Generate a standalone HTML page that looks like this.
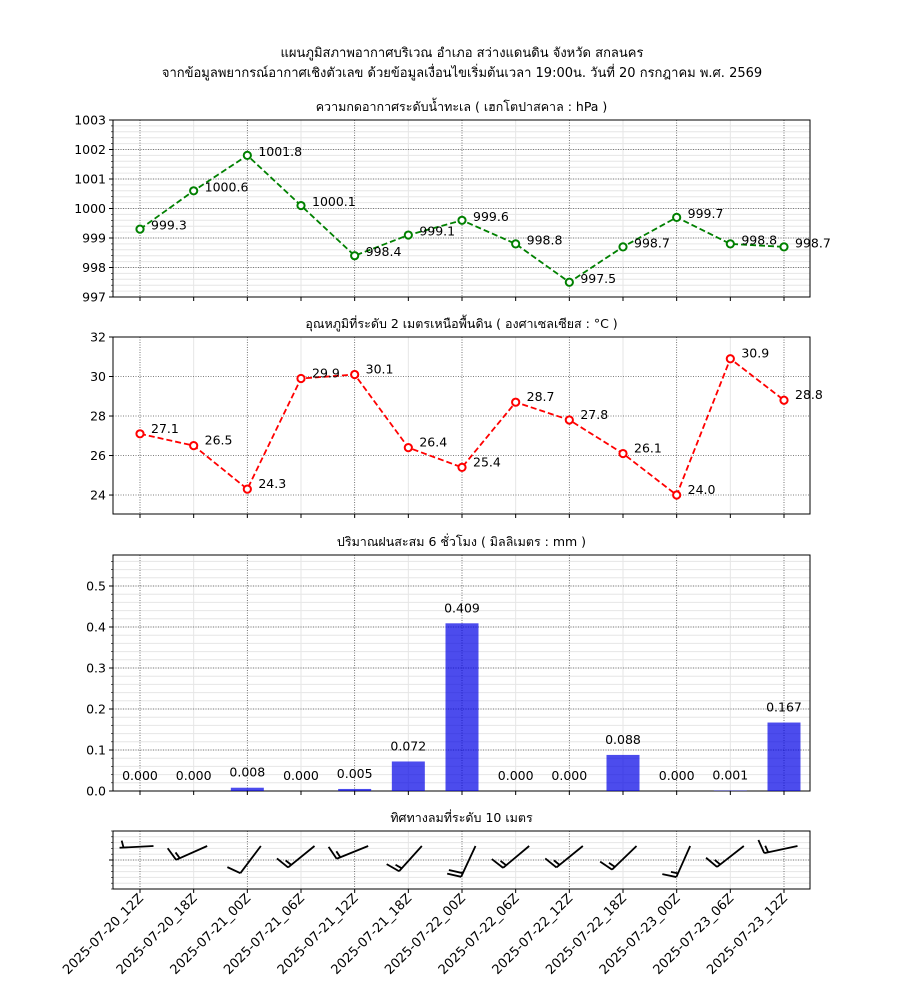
<!DOCTYPE html>
<html><head><meta charset="utf-8">
<style>
html,body{margin:0;padding:0;background:#fff;}
svg{display:block;font-family:"DejaVu Sans","Liberation Sans",sans-serif;}
</style></head>
<body>
<svg id="chart" width="900" height="1000" viewBox="0 0 900 1000" xmlns="http://www.w3.org/2000/svg">
<rect width="900" height="1000" fill="#fff"/>
<text x="462" y="57" text-anchor="middle" font-size="13">แผนภูมิสภาพอากาศบริเวณ อำเภอ สว่างแดนดิน จังหวัด สกลนคร</text>
<text x="462" y="77" text-anchor="middle" font-size="13">จากข้อมูลพยากรณ์อากาศเชิงตัวเลข ด้วยข้อมูลเงื่อนไขเริ่มต้นเวลา 19:00น. วันที่ 20 กรกฎาคม พ.ศ. 2569</text>
<g id="g"></g>
</svg>
<script>
const categories=["2025-07-20_12Z","2025-07-20_18Z","2025-07-21_00Z","2025-07-21_06Z","2025-07-21_12Z","2025-07-21_18Z","2025-07-22_00Z","2025-07-22_06Z","2025-07-22_12Z","2025-07-22_18Z","2025-07-23_00Z","2025-07-23_06Z","2025-07-23_12Z"];
const pressure=[999.3,1000.6,1001.8,1000.1,998.4,999.1,999.6,998.8,997.5,998.7,999.7,998.8,998.7];
const temperature=[27.1,26.5,24.3,29.9,30.1,26.4,25.4,28.7,27.8,26.1,24.0,30.9,28.8];
const rain=[0.000,0.000,0.008,0.000,0.005,0.072,0.409,0.000,0.000,0.088,0.000,0.001,0.167];
const windDirDeg=[177,156,127,141,158,132,115,140,141,136,114,142,168];
const windFull=[0,1,1,1,1,1,2,1,1,1,1,1,1];
const windHalf=[1,1,0,1,1,1,0,1,1,1,1,1,1];
const pTicks=[997,998,999,1000,1001,1002,1003];
const tTicks=[24,26,28,30,32];
const rTicks=[0.0,0.1,0.2,0.3,0.4,0.5];

const NS="http://www.w3.org/2000/svg";
const G=document.getElementById('g');
function el(tag,attrs,parent){const e=document.createElementNS(NS,tag);for(const k in attrs)e.setAttribute(k,attrs[k]);(parent||G).appendChild(e);return e;}
const L=113,R=810;
const xAt=i=>140+i*(784-140)/(categories.length-1);

function panel(name,top,bot,ymin,ymax,title,ticks,fmt,minorStep){
  const g=el('g',{});
  
  
  const y=v=>bot-(v-ymin)/(ymax-ymin)*(bot-top);
  if(minorStep){for(let v=Math.ceil(ymin/minorStep)*minorStep;v<=ymax+1e-9;v+=minorStep){const yy=y(v);el('line',{x1:L,x2:R,y1:yy,y2:yy,stroke:'#e6e6e6','stroke-width':1},g);el('line',{x1:L-2,x2:L,y1:yy,y2:yy,stroke:'#000','stroke-width':0.6},g);}}
  categories.forEach((c,i)=>{const xx=xAt(i);el('line',{x1:xx,x2:xx,y1:top,y2:bot,stroke:i%2?'#e6e6e6':'#555','stroke-width':i%2?1:0.8,'stroke-dasharray':i%2?'':'1,1.5'},g);el('line',{x1:xx,x2:xx,y1:bot,y2:bot+4,stroke:'#000'},g);});
  ticks.forEach(v=>{const yy=y(v);el('line',{x1:L,x2:R,y1:yy,y2:yy,stroke:'#555','stroke-width':0.8,'stroke-dasharray':'1,1.5'},g);el('line',{x1:L-4,x2:L,y1:yy,y2:yy,stroke:'#000'},g);
    if(fmt){const t=el('text',{x:L-7,y:yy+4.5,'text-anchor':'end','font-size':12.5},g);t.textContent=fmt(v);}});
  el('rect',{x:L,y:top,width:R-L,height:bot-top,fill:'none',stroke:'#000','stroke-width':1},g);
  const tt=el('text',{x:(L+R)/2,y:top-9,'text-anchor':'middle','font-size':12.5},g);
  
  
  tt.textContent=title;
  return {g,y};
}

const p1=panel('pressure-panel',120,297,997,1003,'ความกดอากาศระดับน้ำทะเล ( เฮกโตปาสคาล : hPa )',pTicks,v=>v,0.2);
el('polyline',{points:pressure.map((v,i)=>xAt(i)+','+p1.y(v)).join(' '),fill:'none',stroke:'#008000','stroke-width':1.8,'stroke-dasharray':'6,3'},p1.g);
pressure.forEach((v,i)=>{const c=el('circle',{cx:xAt(i),cy:p1.y(v),r:3.6,fill:'#fff',stroke:'#008000','stroke-width':2},p1.g);
  
  
  const t=el('text',{x:xAt(i)+11,y:p1.y(v)+0.5,'font-size':12.5},p1.g);t.textContent=v.toFixed(1);});

const p2=panel('temperature-panel',337,514,23.04,32,'อุณหภูมิที่ระดับ 2 เมตรเหนือพื้นดิน ( องศาเซลเซียส : °C )',tTicks,v=>v,null);
el('polyline',{points:temperature.map((v,i)=>xAt(i)+','+p2.y(v)).join(' '),fill:'none',stroke:'#ff0000','stroke-width':1.8,'stroke-dasharray':'6,3'},p2.g);
temperature.forEach((v,i)=>{const c=el('circle',{cx:xAt(i),cy:p2.y(v),r:3.6,fill:'#fff',stroke:'#ff0000','stroke-width':2},p2.g);
  
  
  const t=el('text',{x:xAt(i)+11,y:p2.y(v)-1,'font-size':12.5},p2.g);t.textContent=v.toFixed(1);});

const p3=panel('rain-panel',555,791,0,0.5756,'ปริมาณฝนสะสม 6 ชั่วโมง ( มิลลิเมตร : mm )',rTicks,v=>v.toFixed(1),0.02);
rain.forEach((v,i)=>{const yy=p3.y(v);const b=el('rect',{x:xAt(i)-16.5,y:yy,width:33,height:791-yy,fill:'rgba(0,0,230,0.7)'},p3.g);
  
  
  const t=el('text',{x:xAt(i),y:yy-11,'text-anchor':'middle','font-size':12.5},p3.g);t.textContent=v.toFixed(3);});

const p4=panel('wind-panel',831,889,0,1,'ทิศทางลมที่ระดับ 10 เมตร',[0.5],null,0.1);
windDirDeg.forEach((d,i)=>{
  const tx=xAt(i)+13.5,ty=846,Ls=34;
  const a=d*Math.PI/180;const ux=Math.cos(a),uy=Math.sin(a);
  const bx=tx+ux*Ls,by=ty+uy*Ls;
  const bg=el('g',{stroke:'#000','stroke-width':1.8,fill:'none'},p4.g);
  
  
  el('line',{x1:tx,y1:ty,x2:bx,y2:by},bg);
  const px=-uy,py=ux;let off=0;
  for(let k=0;k<windFull[i];k++){const sx=bx-ux*off,sy=by-uy*off;el('line',{x1:sx,y1:sy,x2:sx+px*14+ux*3,y2:sy+py*14+uy*3},bg);off+=4;}
  for(let k=0;k<windHalf[i];k++){if(off===0)off=4;const sx=bx-ux*off,sy=by-uy*off;el('line',{x1:sx,y1:sy,x2:sx+px*7+ux*1.5,y2:sy+py*7+uy*1.5},bg);off+=4;}
});
categories.forEach((c,i)=>{const xx=xAt(i)+4,yy=899;const t=el('text',{x:xx,y:yy,'text-anchor':'end','font-size':13,transform:`rotate(-45 ${xx} ${yy})`});
  
  
  t.textContent=c;});
</script>
</body></html>
